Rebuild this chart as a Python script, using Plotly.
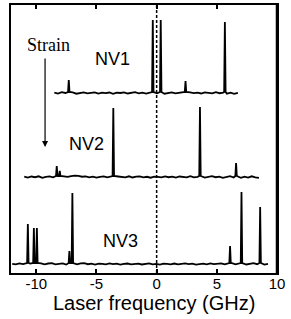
import numpy as np
import plotly.graph_objects as go

# ---- data (intensity in arbitrary units, vertical offsets per spectrum) ----
tick_vals = [-10, -5, 0, 5, 10]
tick_text = ["-10", "-5", "0", "5", "10"]

nv1_range = [-8.5, 6.75]
nv1_offset = 180
nv1_noise = [0.5, -0.8, 1.2, 0.0, -0.5, 0.9, -1.0, 0.3, 0.8, -0.6,
             0.2, 1.0, -0.9, 0.4, -0.2, 0.7, -1.1, 0.5, 0.0, 0.9,
             -0.7, 0.3, 1.1, -0.4, 0.6, -0.9, 0.2, 0.8, -0.3, 0.5,
             -1.0, 0.4, 0.9, -0.6, 0.1, 0.7, -0.8, 1.0, -0.2, 0.4,
             -0.7, 0.9, 0.2, -0.5, 1.1, -0.3, 0.6, -0.9, 0.5, -1.2,
             0.3]
nv1_peak_x = [-7.3, -0.32, 0.34, 2.4, 5.67]
nv1_peak_h = [13, 73, 73, 12, 71]

nv2_range = [-11.0, 8.5]
nv2_offset = 96
nv2_noise = [0.4, -0.9, 0.7, -0.3, 1.0, -1.2, 0.2, 0.8, -0.5, 0.3,
             -1.0, 0.6, 0.1, 1.2, 2.0, 1.5, 0.4, 0.9, -0.4, 0.6,
             -0.8, 0.3, 0.9, -0.6, 0.2, -0.9, 0.7, 0.0, -0.4, 1.0,
             -0.7, 0.4, 0.8, -0.5, 0.3, -1.0, 0.6, 0.1, -0.6, 0.9,
             -0.3, 0.5, -0.9, 0.7, 0.2, -0.6, 1.1, -0.4, 0.3, 0.8,
             -0.9, 0.5, 1.2, -0.3, 0.6, -1.1, 0.4, 1.3, -0.7, 0.9,
             -1.2, 0.5, -0.8, 1.0, -0.5, -1.3]
nv2_peak_x = [-8.3, -8.05, -3.6, 3.6, 6.6]
nv2_peak_h = [11, 6, 69, 70, 14]

nv3_range = [-12.0, 9.25]
nv3_offset = 9
nv3_noise = [0.3, -0.6, 0.9, -0.2, 1.3, 0.5, -0.8, 0.4, 1.0, -0.5,
             0.7, 1.2, -0.4, 0.2, 0.8, -0.9, 0.5, 0.0, -0.6, 0.9,
             1.1, -0.3, 0.4, -0.8, 0.6, 0.1, -0.5, 0.8, -0.2, 0.4,
             -0.9, 0.3, 0.7, -0.4, 0.0, 0.6, -0.7, 0.3, 0.9, -0.5,
             0.2, -0.8, 0.5, 0.1, -0.4, 0.7, -0.6, 0.3, 0.8, -0.3,
             0.5, -0.9, 0.2, 0.6, -0.5, 0.9, -0.2, 0.4, 1.0, -0.6,
             0.3, 1.2, -0.4, 0.8, 0.1, -0.7, 0.6, 1.1, -0.3, 0.5,
             -0.8, 0.2]
nv3_peak_x = [-10.7, -10.2, -9.95, -7.25, -7.0, 6.1, 7.05, 8.6]
nv3_peak_h = [40, 36, 36, 13, 71, 18, 72, 57]

labels = ["NV1", "NV2", "NV3"]
label_x = [-3.7, -5.8, -3.0]
label_y = [214, 129, 32]
x_title = "Laser frequency (GHz)"


def build(rng, noise, px, ph, offset):
    bx = np.linspace(rng[0], rng[1], len(noise))
    pts = [(x, 0.7 * y) for x, y in zip(bx, noise) if all(abs(x - p) > 0.12 for p in px)]
    for p, h in zip(px, ph):
        pts += [(p - 0.06, 1.0), (p, h), (p + 0.06, 1.0)]
    pts.sort()
    xs = [p[0] for p in pts]
    ys = [p[1] + offset for p in pts]
    return xs, ys


fig = go.Figure()
for rng, noise, px, ph, off in [
    (nv1_range, nv1_noise, nv1_peak_x, nv1_peak_h, nv1_offset),
    (nv2_range, nv2_noise, nv2_peak_x, nv2_peak_h, nv2_offset),
    (nv3_range, nv3_noise, nv3_peak_x, nv3_peak_h, nv3_offset),
]:
    xs, ys = build(rng, noise, px, ph, off)
    fig.add_trace(go.Scatter(x=xs, y=ys, mode="lines",
                             line=dict(color="black", width=1.8),
                             showlegend=False, hoverinfo="skip"))

# dashed zero line
fig.add_shape(type="line", xref="x", yref="paper", x0=0, x1=0, y0=0, y1=1,
              line=dict(color="black", width=1.5, dash="3px,2px"))
# thicker right frame
fig.add_shape(type="line", xref="paper", yref="paper", x0=1, x1=1, y0=0, y1=1,
              line=dict(color="black", width=2.5))

for t, x, y in zip(labels, label_x, label_y):
    fig.add_annotation(x=x, y=y, text=t, showarrow=False,
                       font=dict(family="Liberation Sans, Arial", size=18, color="black"))

fig.add_annotation(x=-9.0, y=228, text="Strain", showarrow=False,
                   font=dict(family="Liberation Serif, Times New Roman", size=18, color="black"))
fig.add_annotation(x=-9.27, y=126, ax=0, ay=-90, text="", showarrow=True,
                   arrowhead=2, arrowsize=1, arrowwidth=1.2, arrowcolor="black",
                   xref="x", yref="y", axref="pixel", ayref="pixel")

# x-axis title as annotation (paper coordinates)
fig.add_annotation(x=0.538, y=-0.112, xref="paper", yref="paper", text=x_title,
                   showarrow=False, xanchor="center", yanchor="middle",
                   font=dict(family="Liberation Sans, Arial", size=20, color="black"))

fig.update_layout(
    template="none",
    width=291, height=319,
    margin=dict(l=11, r=14, t=5, b=46, autoexpand=False),
    paper_bgcolor="white", plot_bgcolor="white",
    xaxis=dict(range=[-12.1, 10], tickvals=tick_vals, ticktext=tick_text,
               ticks="inside", ticklen=4, tickwidth=1.5, tickcolor="black",
               showline=True, linecolor="black", linewidth=1.5, mirror="ticks",
               showgrid=False, zeroline=False, automargin=False,
               ticklabelstandoff=-4,
               tickfont=dict(family="Liberation Sans, Arial", size=15, color="black")),
    yaxis=dict(range=[0, 268], showticklabels=False, ticks="",
               showline=True, linecolor="black", linewidth=1.5, mirror=True,
               showgrid=False, zeroline=False, automargin=False),
)

fig.write_html("out.html", config={"displayModeBar": False},
               post_script="document.body.style.margin='0';")
